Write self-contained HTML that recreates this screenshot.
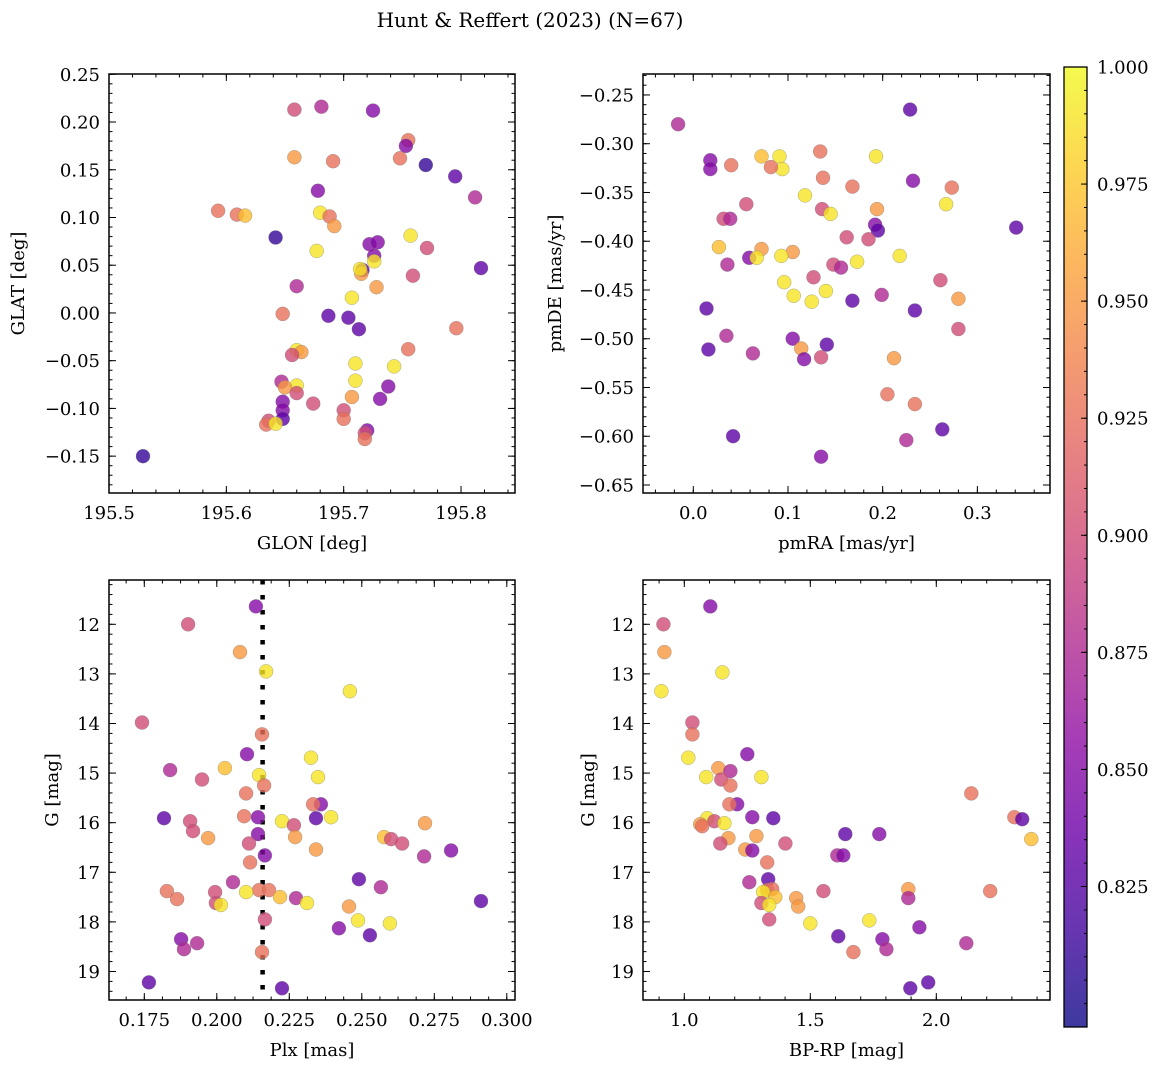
<!DOCTYPE html>
<html><head><meta charset="utf-8">
<style>
html,body{margin:0;padding:0;background:#fff;}
svg{display:block;font-family:"DejaVu Serif","Liberation Serif",serif;}
</style></head>
<body>
<svg id="fig" width="1161" height="1067" viewBox="0 0 1161 1067" xmlns="http://www.w3.org/2000/svg">
<defs>
<linearGradient id="plasmaGrad" x1="0" y1="1" x2="0" y2="0"></linearGradient>
</defs>
<text x="530" y="27" font-size="20" text-anchor="middle">Hunt &amp; Reffert (2023) (N=67)</text>
</svg>
<script>
// ---------- data ----------
// probability codes: D=0.81 B=0.83 P=0.85 M=0.875 K=0.90 S=0.925 O=0.95 A=0.97 Y=0.99
const glon = [195.658,195.681,195.725,195.755,195.753,195.748,195.770,195.795,195.658,195.691,195.678,195.812,195.593,195.609,195.616,195.680,195.688,195.692,195.642,195.722,195.729,195.757,195.677,195.771,195.726,195.726,195.716,195.715,195.714,195.817,195.759,195.660,195.728,195.707,195.648,195.687,195.704,195.713,195.796,195.660,195.664,195.656,195.710,195.743,195.755,195.710,195.647,195.660,195.738,195.650,195.660,195.707,195.731,195.648,195.674,195.700,195.648,195.700,195.648,195.636,195.634,195.642,195.720,195.718,195.718,195.529];
const glat = [0.213,0.216,0.212,0.181,0.175,0.162,0.155,0.143,0.163,0.159,0.128,0.121,0.107,0.103,0.102,0.105,0.101,0.091,0.079,0.072,0.074,0.081,0.065,0.068,0.060,0.054,0.045,0.041,0.046,0.047,0.039,0.028,0.027,0.016,-0.001,-0.003,-0.005,-0.017,-0.016,-0.039,-0.041,-0.044,-0.053,-0.056,-0.038,-0.071,-0.072,-0.076,-0.077,-0.078,-0.084,-0.088,-0.090,-0.093,-0.095,-0.102,-0.102,-0.111,-0.111,-0.113,-0.117,-0.116,-0.123,-0.126,-0.132,-0.150];
const probPos = "KMPSPSDBOSPMSSAYSODPPYYKPYBOYBKMOYSBBBSYOKYYSYMYPOKOPPKKPSBKSYPKSD";

const pmra = [-0.016,0.229,0.018,0.018,0.040,0.072,0.091,0.134,0.193,0.094,0.082,0.137,0.232,0.168,0.273,0.118,0.056,0.267,0.194,0.136,0.145,0.032,0.039,0.192,0.195,0.341,0.162,0.185,0.027,0.072,0.105,0.218,0.059,0.067,0.093,0.036,0.148,0.156,0.173,0.127,0.261,0.096,0.140,0.199,0.280,0.106,0.125,0.168,0.014,0.234,0.280,0.035,0.105,0.141,0.016,0.114,0.063,0.117,0.135,0.212,0.205,0.234,0.042,0.263,0.225,0.135];
const pmde = [-0.280,-0.265,-0.317,-0.326,-0.322,-0.313,-0.313,-0.308,-0.313,-0.326,-0.324,-0.335,-0.338,-0.344,-0.345,-0.353,-0.362,-0.362,-0.367,-0.367,-0.372,-0.377,-0.377,-0.383,-0.389,-0.386,-0.396,-0.398,-0.406,-0.408,-0.411,-0.415,-0.417,-0.417,-0.415,-0.424,-0.424,-0.427,-0.421,-0.437,-0.440,-0.442,-0.451,-0.455,-0.459,-0.456,-0.462,-0.461,-0.469,-0.471,-0.490,-0.497,-0.500,-0.506,-0.511,-0.510,-0.515,-0.521,-0.519,-0.520,-0.557,-0.567,-0.600,-0.593,-0.604,-0.621];
const probPm = "MBPPSAYSYYSSPSSYKYOKYKMPBBKKAOOYPYYMKMYKKYYMOYYBBBKMPBBOMPKOSSBBMP";

const plx = [0.2135,0.1901,0.2080,0.2170,0.2459,0.1742,0.2156,0.2325,0.2104,0.1839,0.2028,0.2146,0.1949,0.2349,0.2101,0.2163,0.2359,0.2332,0.1818,0.1908,0.2094,0.2142,0.2342,0.2394,0.2225,0.2266,0.2718,0.1918,0.2142,0.1970,0.2577,0.2601,0.2111,0.2639,0.2270,0.2342,0.2808,0.2166,0.2715,0.2115,0.2056,0.2490,0.2566,0.1828,0.1994,0.2146,0.2180,0.2101,0.1863,0.2218,0.2273,0.1997,0.2014,0.2456,0.2311,0.2166,0.2487,0.2597,0.2421,0.2528,0.1877,0.1932,0.1887,0.2156,0.2911,0.1766,0.2225];
const gmagA = [11.64,12.00,12.56,12.95,13.35,13.98,14.22,14.69,14.62,14.94,14.90,15.04,15.13,15.08,15.41,15.25,15.63,15.63,15.91,15.97,15.87,15.89,15.91,15.89,15.97,16.05,16.01,16.17,16.23,16.31,16.29,16.33,16.42,16.42,16.29,16.54,16.56,16.66,16.68,16.80,17.20,17.14,17.30,17.38,17.40,17.36,17.36,17.40,17.54,17.50,17.52,17.62,17.66,17.69,17.62,17.95,17.97,18.03,18.13,18.27,18.35,18.43,18.55,18.61,17.58,19.22,19.34];
const probPlx = "PKOYYKSYPMAYKYSSPSBKSPBYYKOKPOAKKKOOPPMSMBMSKSSYSAMKYOYKYYPBPMMSBBB";

const bprp = [1.103,0.917,0.921,1.151,0.909,1.032,1.032,1.016,1.250,1.135,1.183,1.087,1.147,1.183,1.306,2.139,1.210,1.179,1.091,1.119,1.270,1.353,1.063,1.071,1.159,2.310,2.341,2.377,1.639,1.175,1.286,1.143,1.401,1.242,1.270,1.607,1.631,1.329,1.258,1.333,1.329,1.349,1.313,1.552,1.889,2.214,1.361,1.306,1.337,1.444,1.452,1.889,1.734,1.337,1.500,1.933,1.611,1.786,1.802,2.119,1.671,1.968,1.897,1.774];
const gmagB = [11.64,12.00,12.56,12.97,13.35,13.98,14.22,14.69,14.62,14.90,14.96,15.08,15.13,15.25,15.08,15.41,15.63,15.63,15.91,15.97,15.89,15.91,16.03,16.07,16.01,15.89,15.93,16.33,16.23,16.31,16.27,16.42,16.42,16.54,16.56,16.66,16.66,16.80,17.20,17.14,17.36,17.34,17.40,17.38,17.34,17.38,17.50,17.62,17.66,17.52,17.69,17.52,17.97,17.95,18.03,18.11,18.29,18.35,18.55,18.43,18.61,19.22,19.34,16.23];
const probCmd = "PKOYYKSYPOMYKSYSPSYKPBOSYSBABOOKKOPMPSMBSSYKOSAKYOOMYKYPBPMMSBBP";

const plxRef = [0.2158];
const probMap = {D:0.81,B:0.83,P:0.85,M:0.875,K:0.90,S:0.925,O:0.95,A:0.97,Y:0.99};
const cbTicks = [0.825,0.850,0.875,0.900,0.925,0.950,0.975,1.000];

// ---------- helpers ----------
const NS = "http://www.w3.org/2000/svg";
const svg = document.getElementById('fig');
function mk(tag, attrs, parent){ const e=document.createElementNS(NS,tag); for(const k in attrs) e.setAttribute(k,attrs[k]); (parent||svg).appendChild(e); return e; }
const plasmaStops = [[13,8,135],[65,4,157],[106,0,168],[143,13,164],[177,42,144],[204,71,120],[225,100,98],[242,132,75],[252,166,54],[252,206,37],[240,249,33]];
function plasma(t){ t=Math.max(0,Math.min(1,t)); const f=t*10; const i=Math.min(9,Math.floor(f)); const r=f-i; const a=plasmaStops[i], b=plasmaStops[i+1];
  return `rgb(${Math.round(a[0]+(b[0]-a[0])*r)},${Math.round(a[1]+(b[1]-a[1])*r)},${Math.round(a[2]+(b[2]-a[2])*r)})`; }
const VMIN=0.795, VMAX=1.0;
function col(p){ return plasma((p-VMIN)/(VMAX-VMIN)); }

function fmt(v,d){ return (v<0?'\u2212':'')+Math.abs(v).toFixed(d); }
const FS = 18;

function panel(cfg){
  const g = mk('g',{});
  
  
  const {x0,x1,y0,y1,xd,yd,yInv} = cfg;
  const sx = v => x0 + (v-xd[0])/(xd[1]-xd[0])*(x1-x0);
  const sy = v => yInv ? y0 + (v-yd[0])/(yd[1]-yd[0])*(y1-y0) : y1 - (v-yd[0])/(yd[1]-yd[0])*(y1-y0);
  const cid = 'clip-'+cfg.name;
  const cp = mk('clipPath',{id:cid},g); mk('rect',{x:x0,y:y0,width:x1-x0,height:y1-y0},cp);
  const marks = mk('g',{'clip-path':`url(#${cid})`},g);
  if(cfg.extra) cfg.extra(marks,sx,sy);
  for(let i=0;i<cfg.xs.length;i++){
    const c = mk('circle',{cx:sx(cfg.xs[i]).toFixed(1),cy:sy(cfg.ys[i]).toFixed(1),r:7,fill:col(probMap[cfg.ps[i]]||0.9),'fill-opacity':0.8,stroke:'#777','stroke-width':0.5,'stroke-opacity':0.6},marks);
    
    
  }
  const tk = mk('g',{stroke:'#000','stroke-width':1},g);
  const eps=1e-9;
  function ticksRange(d,step){ const out=[]; let s=Math.ceil((Math.min(d[0],d[1])-eps)/step); for(let v=s*step; v<=Math.max(d[0],d[1])+eps; v=(++s)*step) out.push(+v.toFixed(6)); return out; }
  ticksRange(xd,cfg.xminor).forEach(v=>{ const x=sx(v); mk('line',{x1:x,x2:x,y1:y1,y2:y1-3.5},tk); mk('line',{x1:x,x2:x,y1:y0,y2:y0+3.5},tk); });
  ticksRange(yd,cfg.yminor).forEach(v=>{ const y=sy(v); mk('line',{x1:x0,x2:x0+3.5,y1:y,y2:y},tk); mk('line',{x1:x1,x2:x1-3.5,y1:y,y2:y},tk); });
  ticksRange(xd,cfg.xmajor).forEach(v=>{ const x=sx(v); mk('line',{x1:x,x2:x,y1:y1,y2:y1-7},tk); mk('line',{x1:x,x2:x,y1:y0,y2:y0+7},tk);
    const t=mk('text',{x:x,y:y1+26,'font-size':FS,'text-anchor':'middle'},g); t.textContent=fmt(v,cfg.xdec);
      });
  ticksRange(yd,cfg.ymajor).forEach(v=>{ const y=sy(v); mk('line',{x1:x0,x2:x0+7,y1:y,y2:y},tk); mk('line',{x1:x1,x2:x1-7,y1:y,y2:y},tk);
    const t=mk('text',{x:x0-9,y:y+6.5,'font-size':FS,'text-anchor':'end'},g); t.textContent=fmt(v,cfg.ydec);
      });
  mk('rect',{x:x0,y:y0,width:x1-x0,height:y1-y0,fill:'none',stroke:'#000','stroke-width':1.5},g);
  const xl=mk('text',{x:(x0+x1)/2,y:y1+56,'font-size':FS,'text-anchor':'middle'},g); xl.textContent=cfg.xlabel;
   
  const yx=cfg.ylx, yy=(y0+y1)/2;
  const yl=mk('text',{x:yx,y:yy,'font-size':FS,'text-anchor':'middle',transform:`rotate(-90 ${yx} ${yy})`},g); yl.textContent=cfg.ylabel;
   
}

panel({name:'position-panel',x0:109,x1:515,y0:74,y1:493,xd:[195.5,195.846],yd:[-0.1886,0.2503],
  xs:glon,ys:glat,ps:probPos,xmajor:0.1,xminor:0.02,ymajor:0.05,yminor:0.01,xdec:1,ydec:2,xlabel:'GLON [deg]',ylabel:'GLAT [deg]',ylx:24});
panel({name:'proper-motion-panel',x0:643,x1:1050,y0:74,y1:493,xd:[-0.0531,0.3767],yd:[-0.6582,-0.2285],
  xs:pmra,ys:pmde,ps:probPm,xmajor:0.1,xminor:0.02,ymajor:0.05,yminor:0.01,xdec:1,ydec:2,xlabel:'pmRA [mas/yr]',ylabel:'pmDE [mas/yr]',ylx:561});
panel({name:'parallax-panel',x0:109,x1:515,y0:580,y1:1000,xd:[0.16283,0.30283],yd:[11.107,19.575],yInv:true,
  xs:plx,ys:gmagA,ps:probPlx,xmajor:0.025,xminor:0.00625,ymajor:1,yminor:0.2,xdec:3,ydec:0,xlabel:'Plx [mas]',ylabel:'G [mag]',ylx:58,
  extra:(g,sx,sy)=>{ plxRef.forEach(v=>{ const l=mk('line',{x1:sx(v),x2:sx(v),y1:580,y2:1000,stroke:'#000','stroke-width':4.5,'stroke-dasharray':'4.5 10.5'},g);
      }); }});
panel({name:'cmd-panel',x0:643,x1:1050,y0:580,y1:1000,xd:[0.8361,2.4512],yd:[11.107,19.575],yInv:true,
  xs:bprp,ys:gmagB,ps:probCmd,xmajor:0.5,xminor:0.1,ymajor:1,yminor:0.2,xdec:1,ydec:0,xlabel:'BP-RP [mag]',ylabel:'G [mag]',ylx:594});

// colorbar
(function(){
  const cx0=1064,cx1=1087,cy0=67,cy1=1027;
  const grad=document.getElementById('plasmaGrad');
  for(let i=0;i<=20;i++){ const t=i/20; mk('stop',{offset:t,'stop-color':plasma(t)},grad); }
  const g=mk('g',{});  
  mk('rect',{x:cx0,y:cy0,width:cx1-cx0,height:cy1-cy0,fill:'url(#plasmaGrad)','fill-opacity':0.8},g);
  const sy=v=>cy0+(VMAX-v)/(VMAX-VMIN)*(cy1-cy0);
  for(let v=0.8; v<=1.0001; v+=0.005){ const y=sy(v); mk('line',{x1:cx1,x2:cx1-3,y1:y,y2:y,stroke:'#000'},g); }
  cbTicks.forEach(v=>{ const y=sy(v); mk('line',{x1:cx1,x2:cx1-6,y1:y,y2:y,stroke:'#000'},g);
    const t=mk('text',{x:cx1+10,y:y+6.5,'font-size':FS},g); t.textContent=v.toFixed(3);
      });
  mk('rect',{x:cx0,y:cy0,width:cx1-cx0,height:cy1-cy0,fill:'none',stroke:'#000','stroke-width':1.3},g);
})();
</script>
</body></html>
